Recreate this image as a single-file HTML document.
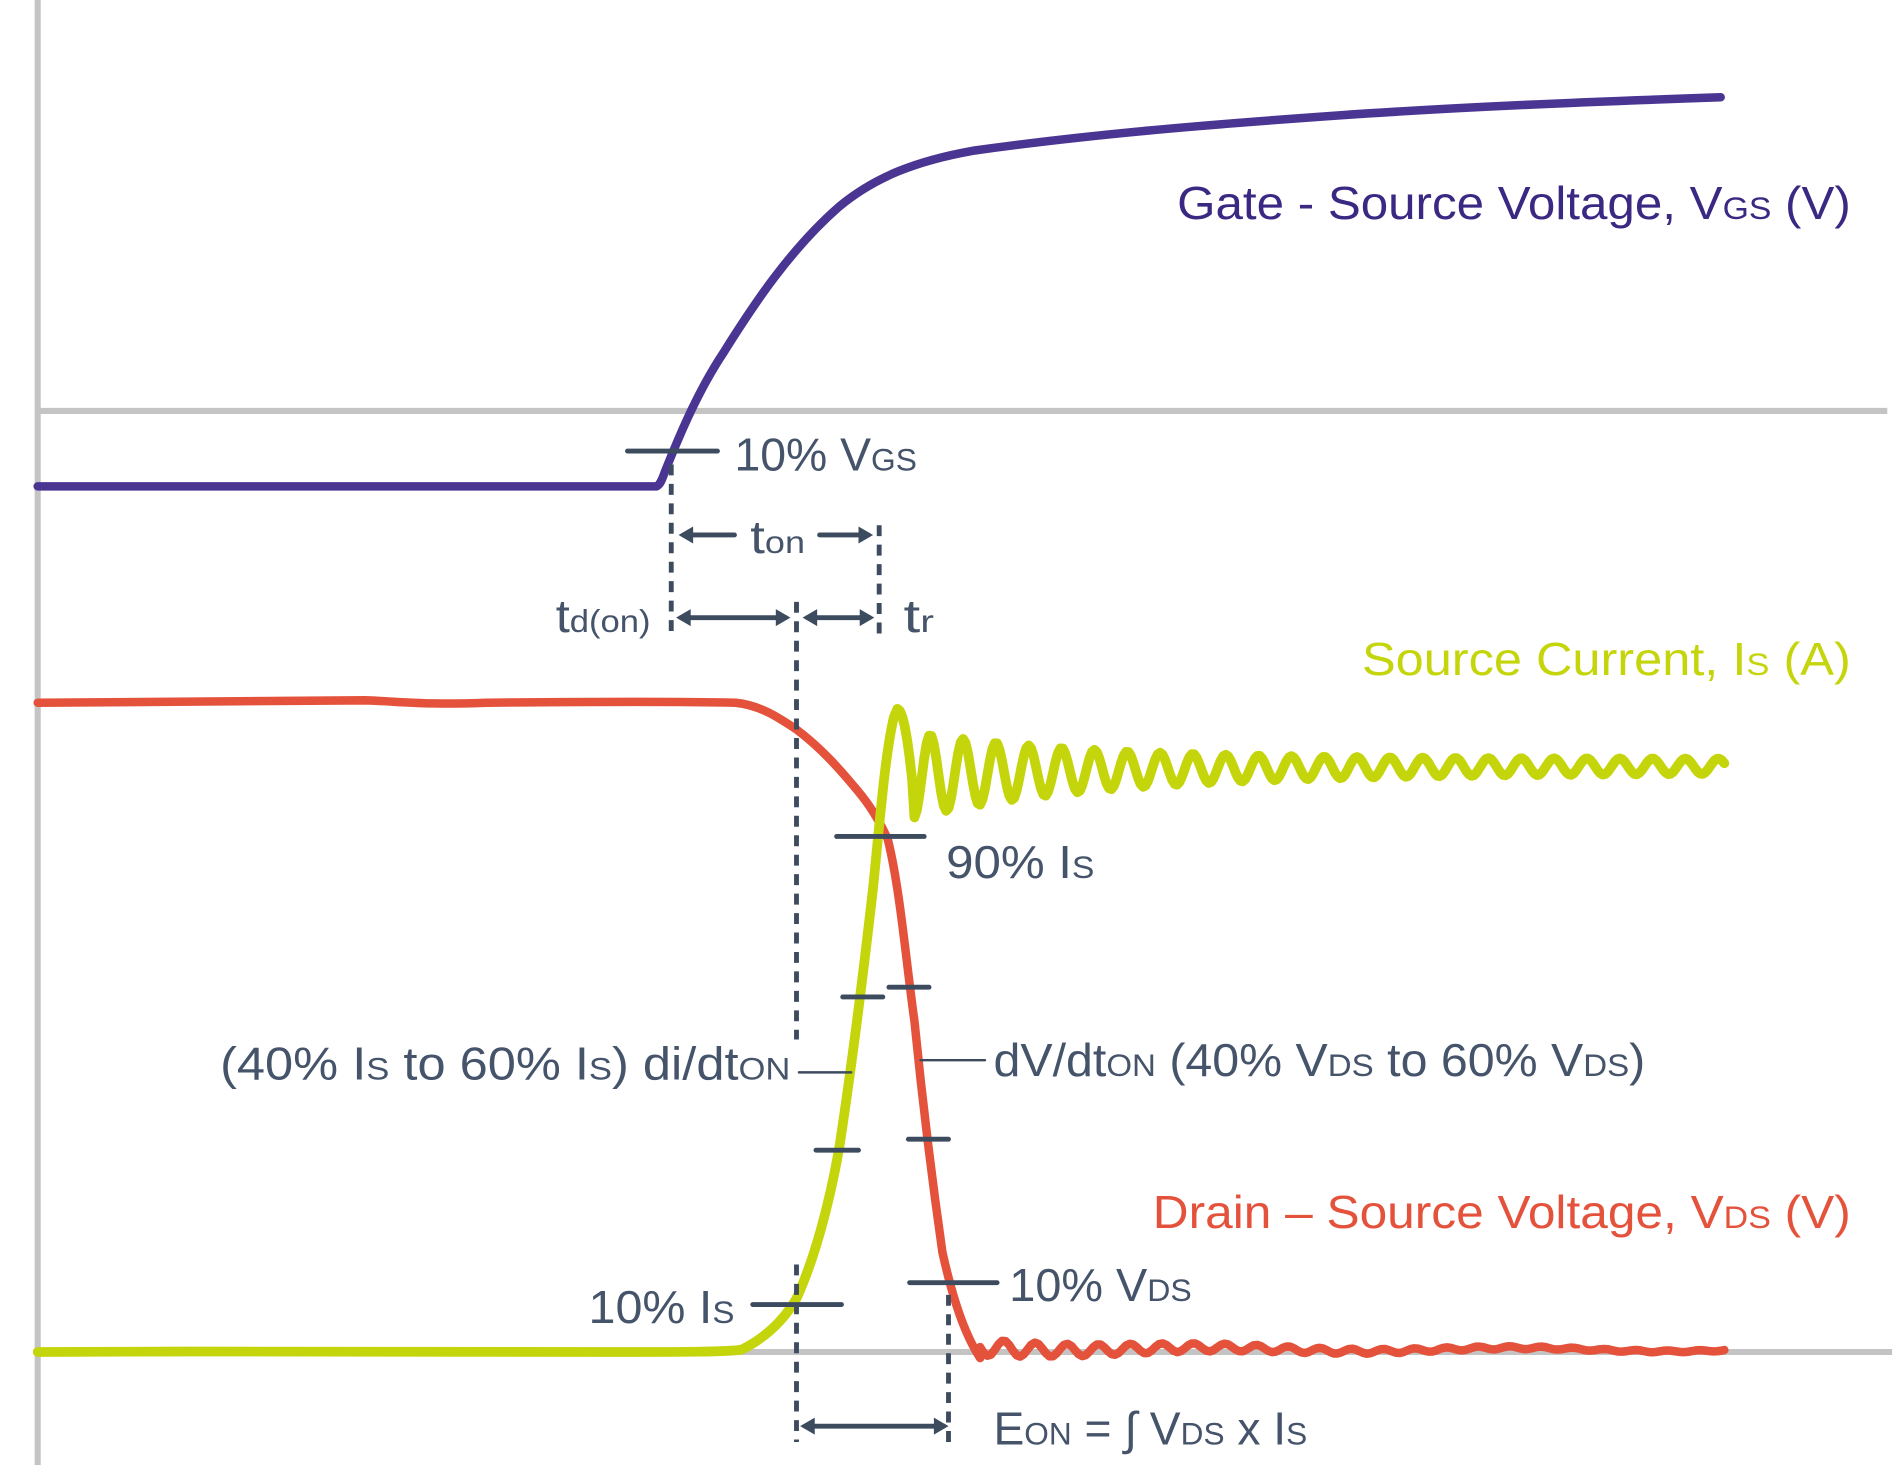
<!DOCTYPE html>
<html><head><meta charset="utf-8"><style>
html,body{margin:0;padding:0;background:#fff;}
svg{display:block;}
text{font-family:"Liberation Sans",sans-serif;}
</style></head><body>
<svg id="s" width="1897" height="1476" viewBox="0 0 1560 1214" preserveAspectRatio="none" xmlns="http://www.w3.org/2000/svg">
<g stroke="#c4c4c4" stroke-width="5" fill="none">
<line x1="31" y1="0" x2="31" y2="1205"/>
<line x1="31" y1="338" x2="1552" y2="338"/>
<line x1="31" y1="1112" x2="1556" y2="1112"/>
</g>
<path fill="none" stroke="#4b3593" stroke-width="7" stroke-linecap="round" stroke-linejoin="round"
d="M31,400 L540,400 C544,398 545,392 548,385 C560,355 575,320 595,290 C620,250 650,205 690,170 C720,145 755,132 800,124 C900,110 1000,102 1100,95 C1200,88 1300,84 1415,80"/>
<path id="red" fill="none" stroke="#e4523c" stroke-width="7" stroke-linecap="round" stroke-linejoin="round"/>
<path id="yel" fill="none" stroke="#c5d50c" stroke-width="8" stroke-linecap="round" stroke-linejoin="round"/>
<g stroke="#3d4b5f" stroke-width="4" stroke-dasharray="9,7" fill="none">
<line x1="552" y1="382" x2="552" y2="525"/>
<line x1="723" y1="432" x2="723" y2="525"/>
<line x1="655" y1="495" x2="655" y2="855"/>
<line x1="655" y1="1040" x2="655" y2="1186"/>
<line x1="780" y1="1065" x2="780" y2="1186"/>
</g>
<g stroke="#3d4b5f" stroke-width="4" fill="none" stroke-linecap="round">
<line x1="516" y1="371" x2="590" y2="371"/>
<line x1="688" y1="688" x2="760" y2="688"/>
<line x1="693" y1="820" x2="726" y2="820"/>
<line x1="731" y1="812" x2="764" y2="812"/>
<line x1="671" y1="946" x2="706" y2="946"/>
<line x1="747" y1="937" x2="780" y2="937"/>
<line x1="619" y1="1073" x2="692" y2="1073"/>
<line x1="748" y1="1055" x2="820" y2="1055"/>
<line x1="657" y1="882" x2="700" y2="882" stroke-width="2"/>
<line x1="757" y1="872" x2="810" y2="872" stroke-width="2"/>
<line x1="562" y1="440" x2="604" y2="440"/>
<line x1="674" y1="440" x2="714" y2="440"/>
<line x1="560" y1="508" x2="646" y2="508"/>
<line x1="664" y1="508" x2="715" y2="508"/>
<line x1="662" y1="1173" x2="776" y2="1173"/>
</g>
<g fill="#3d4b5f">
<polygon points="558,440 570,433 570,447"/>
<polygon points="718,440 706,433 706,447"/>
<polygon points="556,508 568,501 568,515"/>
<polygon points="650,508 638,501 638,515"/>
<polygon points="660,508 672,501 672,515"/>
<polygon points="719,508 707,501 707,515"/>
<polygon points="658,1173 670,1166 670,1180"/>
<polygon points="780,1173 768,1166 768,1180"/>
</g>
<g font-size="38">
<text x="968" y="180" fill="#3a2882" textLength="554" lengthAdjust="spacingAndGlyphs">Gate - Source Voltage, V<tspan font-size="26">GS</tspan> (V)</text>
<text x="1120" y="555" fill="#c5d50c" textLength="402" lengthAdjust="spacingAndGlyphs">Source Current, I<tspan font-size="26">S</tspan> (A)</text>
<text x="948" y="1010" fill="#e4523c" textLength="574" lengthAdjust="spacingAndGlyphs">Drain – Source Voltage, V<tspan font-size="26">DS</tspan> (V)</text>
<g fill="#45546a">
<text x="604" y="387" textLength="150" lengthAdjust="spacingAndGlyphs">10% V<tspan font-size="26">GS</tspan></text>
<text x="617" y="455" textLength="45" lengthAdjust="spacingAndGlyphs">t<tspan font-size="26">on</tspan></text>
<text x="457" y="520" textLength="78" lengthAdjust="spacingAndGlyphs">t<tspan font-size="26">d(on)</tspan></text>
<text x="743" y="520" textLength="25" lengthAdjust="spacingAndGlyphs">t<tspan font-size="26">r</tspan></text>
<text x="778" y="722" textLength="122" lengthAdjust="spacingAndGlyphs">90% I<tspan font-size="26">S</tspan></text>
<text x="181" y="888" textLength="469" lengthAdjust="spacingAndGlyphs">(40% I<tspan font-size="26">S</tspan> to 60% I<tspan font-size="26">S</tspan>) di/dt<tspan font-size="26">ON</tspan></text>
<text x="817" y="885" textLength="536" lengthAdjust="spacingAndGlyphs">dV/dt<tspan font-size="26">ON</tspan> (40% V<tspan font-size="26">DS</tspan> to 60% V<tspan font-size="26">DS</tspan>)</text>
<text x="484" y="1088" textLength="120" lengthAdjust="spacingAndGlyphs">10% I<tspan font-size="26">S</tspan></text>
<text x="830" y="1070" textLength="150" lengthAdjust="spacingAndGlyphs">10% V<tspan font-size="26">DS</tspan></text>
<text x="817" y="1188" textLength="258" lengthAdjust="spacingAndGlyphs">E<tspan font-size="26">ON</tspan> = ∫  V<tspan font-size="26">DS</tspan> x I<tspan font-size="26">S</tspan></text>
</g>
</g>
</svg>
<script>
(function(){
var r="M31,578 C150,577 250,576 300,576 C330,577 350,580 400,578 C500,577 560,577 605,578 C625,580 640,590 655,600 C675,615 690,632 705,650 C715,662 722,673 730,690 C740,730 745,790 752,840 C758,900 765,960 775,1030 C785,1075 795,1100 806,1117";
for(var x=806;x<=1418;x+=3){var t=x-806;var y=1110+7*Math.exp(-t/250)*Math.sin(2*Math.PI*t/26)-2*Math.exp(-t/100)+1.5*Math.sin(t/40);r+=" L"+x+","+y.toFixed(1);}
document.getElementById('red').setAttribute('d',r);
var g="M31,1112 C200,1111 400,1112 500,1112 C560,1112 600,1112 610,1110 C630,1100 645,1085 655,1068 C670,1035 682,990 690,945 C700,880 710,800 718,730 C724,670 728,620 735,590";
for(var x=738;x<=1418;x+=2){var t=x-738;var c=630+8*Math.exp(-t/200);var a=32*Math.exp(-t/150)+6;var y=c-a*Math.cos(2*Math.PI*t/27);if(t<14){y=Math.min(y,583+ (t*t)*0.4);} g+=" L"+x+","+y.toFixed(1);}
document.getElementById('yel').setAttribute('d',g);
})();
</script>
</body></html>
